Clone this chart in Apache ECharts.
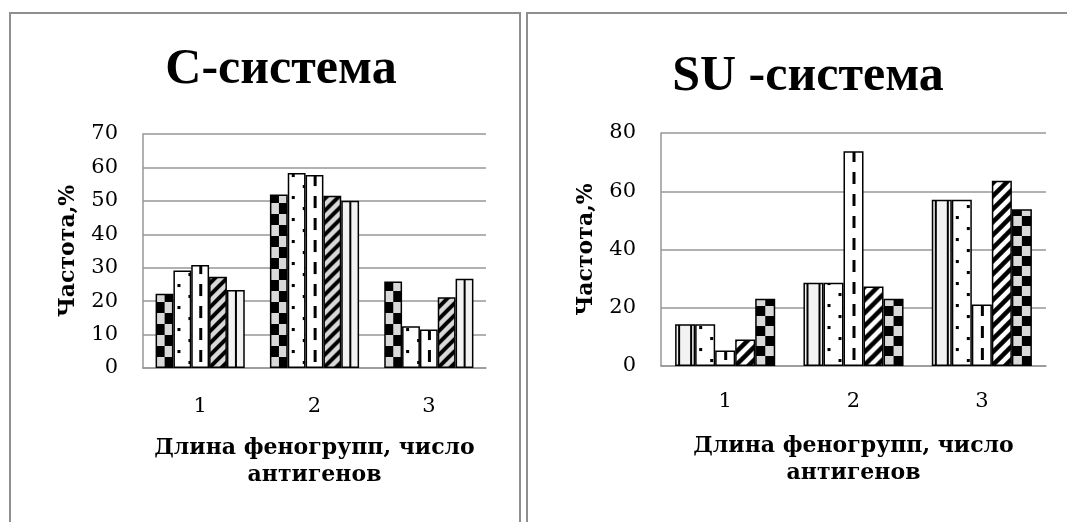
<!DOCTYPE html>
<html>
<head>
<meta charset="utf-8">
<script src="https://cdn.jsdelivr.net/npm/echarts@6/dist/echarts.min.js"></script>
<style>
html, body { margin: 0; padding: 0; background: #fff; }
#c { width: 1067px; height: 522px; }
</style>
</head>
<body>
<div id="c"></div>
<script>
// ---------- DATA ----------
const categories = ['1', '2', '3'];
const yTicksC = [0, 10, 20, 30, 40, 50, 60, 70];
const yTicksSU = [0, 20, 40, 60, 80];

// C-system (order of bars inside each group)
const cChecker = [22.2, 51.9, 25.9];
const cDotted  = [29.2, 58.3, 12.5];
const cDashed  = [30.8, 57.7, 11.5];
const cHatched = [27.3, 51.5, 21.2];
const cStripes = [23.3, 50.0, 26.7];

// SU-system
const suStripes = [14.3, 28.6, 57.1];
const suDotted  = [14.3, 28.6, 57.1];
const suDashed  = [5.3, 73.7, 21.1];
const suHatched = [9.1, 27.3, 63.6];
const suChecker = [23.1, 23.1, 53.8];

const titleC = 'С-система';
const titleSU = 'SU -система';
const yName = 'Частота,%';
const xName = 'Длина феногрупп, число\nантигенов';

// ---------- PATTERNS ----------
function tile(w, h, draw) {
  const cv = document.createElement('canvas');
  cv.width = w; cv.height = h;
  const ctx = cv.getContext('2d');
  draw(ctx, w, h);
  return cv;
}
function makePattern(kind, bw) {
  const w = Math.max(4, Math.round(bw));
  switch (kind) {
    case 'checkerL':
    case 'checkerR': {
      const ch = kind === 'checkerL' ? 11 : 10;
      return tile(w, ch * 2, (c) => {
        c.fillStyle = '#d9d9d9'; c.fillRect(0, 0, w, ch * 2);
        c.fillStyle = '#000';
        c.fillRect(0, 0, w / 2, ch);
        c.fillRect(w / 2, ch, w - w / 2, ch);
      });
    }
    case 'dots':
      return tile(22, 22, (c) => {
        c.fillStyle = '#fff'; c.fillRect(0, 0, 22, 22);
        c.fillStyle = '#000';
        c.fillRect(4, 4, 3, 3);
        c.fillRect(15, 15, 3, 3);
      });
    case 'dash':
      return tile(w, 22, (c) => {
        c.fillStyle = '#fff'; c.fillRect(0, 0, w, 22);
        c.fillStyle = '#000';
        c.fillRect(Math.round(w / 2 - 1.5), 4, 3, 12);
      });
    case 'hatchGray':
    case 'hatchWhite': {
      const s = kind === 'hatchGray' ? 12 : 13;
      const lw = kind === 'hatchGray' ? 4 : 4.5;
      return tile(s, s, (c) => {
        c.fillStyle = kind === 'hatchGray' ? '#d9d9d9' : '#fff';
        c.fillRect(0, 0, s, s);
        c.strokeStyle = '#000'; c.lineWidth = lw;
        c.beginPath();
        [0, s, 2 * s].forEach(k => { c.moveTo(-3, k + 3); c.lineTo(k + 3, -3); });
        c.stroke();
      });
    }
    case 'stripesCenter':
      return tile(w, 4, (c) => {
        c.fillStyle = '#f2f2f2'; c.fillRect(0, 0, w, 4);
        c.fillStyle = '#000';
        c.fillRect(Math.round(w / 2 - 1), 0, 2, 4);
      });
    case 'stripes2':
      return tile(12, 4, (c) => {
        c.fillStyle = '#f2f2f2'; c.fillRect(0, 0, 12, 4);
        c.fillStyle = '#000';
        c.fillRect(3, 0, 2, 4);
      });
  }
}

// ---------- SERIES DEFINITIONS ----------
const seriesDefs = [
  { name: 'c1', values: cChecker, axis: 0, kind: 'checkerL' },
  { name: 'c2', values: cDotted,  axis: 0, kind: 'dots' },
  { name: 'c3', values: cDashed,  axis: 0, kind: 'dash' },
  { name: 'c4', values: cHatched, axis: 0, kind: 'hatchGray' },
  { name: 'c5', values: cStripes, axis: 0, kind: 'stripesCenter' },
  { name: 's1', values: suStripes, axis: 1, kind: 'stripes2' },
  { name: 's2', values: suDotted,  axis: 1, kind: 'dots' },
  { name: 's3', values: suDashed,  axis: 1, kind: 'dash' },
  { name: 's4', values: suHatched, axis: 1, kind: 'hatchWhite' },
  { name: 's5', values: suChecker, axis: 1, kind: 'checkerR' }
];

const SERIF = '"DejaVu Serif", serif';
const TITLE_FONT = '"Liberation Serif", serif';
const GRID_COLOR = '#979797';

function xAxisDef(gi, margin) {
  return {
    type: 'category', gridIndex: gi, data: categories,
    axisLine: { lineStyle: { color: GRID_COLOR, width: 1.5 } },
    axisTick: { show: false },
    axisLabel: { color: '#000', fontFamily: SERIF, fontSize: 21, margin: margin },
    name: xName, nameLocation: 'middle', nameGap: 67,
    nameTextStyle: { color: '#000', fontFamily: SERIF, fontWeight: 'bold', fontSize: 22, lineHeight: 27 }
  };
}
function yAxisDef(gi, ticks) {
  return {
    type: 'value', gridIndex: gi,
    min: ticks[0], max: ticks[ticks.length - 1], interval: ticks[1] - ticks[0],
    axisLine: { show: true, lineStyle: { color: GRID_COLOR, width: 1.5 } },
    axisTick: { show: false },
    splitLine: { lineStyle: { color: GRID_COLOR, width: 1.5 } },
    axisLabel: { color: '#000', fontFamily: SERIF, fontSize: 21, margin: 25 },
    name: yName, nameLocation: 'middle', nameGap: 64, nameRotate: 90,
    nameTextStyle: { color: '#000', fontFamily: SERIF, fontWeight: 'bold', fontSize: 22 }
  };
}

const chart = echarts.init(document.getElementById('c'), null, { renderer: 'canvas', width: 1067, height: 522 });

const option = {
  animation: false,
  backgroundColor: '#fff',
  title: [
    { text: titleC, left: 276, textAlign: 'center', top: 40,
      textStyle: { fontFamily: TITLE_FONT, fontSize: 50, fontWeight: 'bold', color: '#000' } },
    { text: titleSU, left: 803, textAlign: 'center', top: 47,
      textStyle: { fontFamily: TITLE_FONT, fontSize: 50, fontWeight: 'bold', color: '#000' } }
  ],
  graphic: [
    { type: 'rect', silent: true, z: -10, shape: { x: 10, y: 13, width: 510, height: 540 },
      style: { fill: 'none', stroke: '#8f8f8f', lineWidth: 2 } },
    { type: 'rect', silent: true, z: -10, shape: { x: 527, y: 13, width: 560, height: 540 },
      style: { fill: 'none', stroke: '#8f8f8f', lineWidth: 2 } }
  ],
  grid: [
    { left: 143, right: 1067 - 486, top: 134, bottom: 522 - 368 },
    { left: 661, right: 1067 - 1046, top: 133, bottom: 522 - 366 }
  ],
  xAxis: [xAxisDef(0, 28), xAxisDef(1, 25)],
  yAxis: [yAxisDef(0, yTicksC), yAxisDef(1, yTicksSU)],
  series: seriesDefs.map(d => ({
    type: 'bar', name: d.name, xAxisIndex: d.axis, yAxisIndex: d.axis,
    data: d.values.slice(), barGap: '0%', barCategoryGap: '22%', silent: true,
    itemStyle: { color: '#fff', borderColor: '#000', borderWidth: 1.5 }
  }))
};
chart.setOption(option);

// Re-apply fills as patterns anchored at each bar's own position
try {
  const model = chart.getModel();
  const upd = seriesDefs.map((d, si) => {
    const data = model.getSeriesByIndex(si).getData();
    return {
      data: d.values.map((v, j) => {
        const L = data.getItemLayout(j);
        const img = makePattern(d.kind, Math.abs(L.width));
        return { value: v, itemStyle: { color: { image: img, repeat: 'repeat', x: L.x, y: L.y } } };
      })
    };
  });
  chart.setOption({ series: upd });
} catch (e) {
  const upd = seriesDefs.map(d => ({
    itemStyle: { color: { image: makePattern(d.kind, 18), repeat: 'repeat' } }
  }));
  chart.setOption({ series: upd });
}
</script>
</body>
</html>
